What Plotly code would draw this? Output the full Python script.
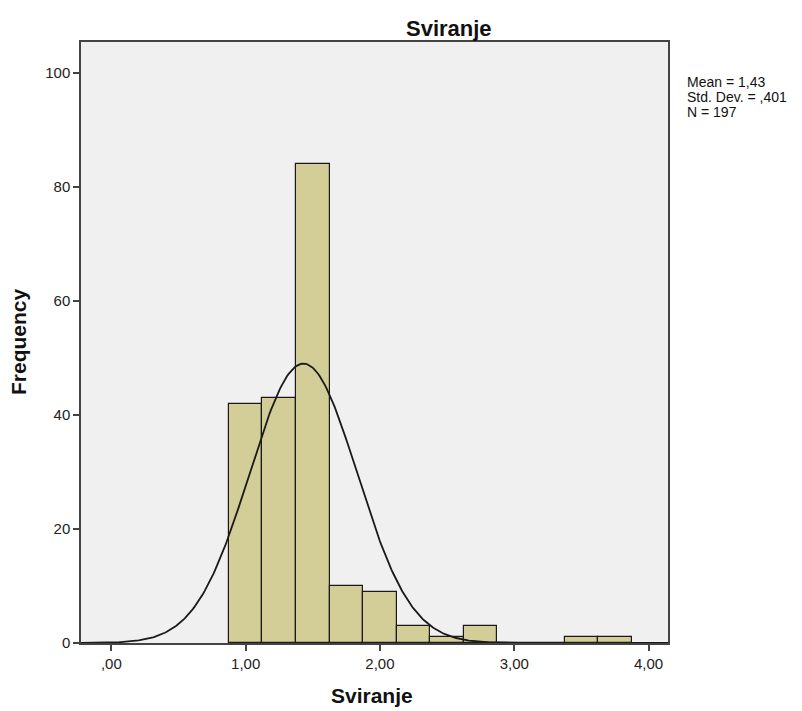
import numpy as np
import plotly.graph_objects as go

# Data
bin_starts = [0.875, 1.125, 1.375, 1.625, 1.875, 2.125, 2.375, 2.625, 2.875, 3.125, 3.375, 3.625]
counts = [42, 43, 84, 10, 9, 3, 1, 3, 0, 0, 1, 1]
bin_width = 0.25
mean_val = 1.43
sd_val = 0.401
n_val = 197
x_tick_vals = [0, 1, 2, 3, 4]
x_tick_text = [",00", "1,00", "2,00", "3,00", "4,00"]
y_tick_vals = [0, 20, 40, 60, 80, 100]
stats_lines = ["Mean = 1,43", "Std. Dev. = ,401", "N = 197"]

centers = [s + bin_width / 2 for s in bin_starts]
xs = np.linspace(-0.226, 4.145, 400)
ys = n_val * bin_width / (sd_val * np.sqrt(2 * np.pi)) * np.exp(-0.5 * ((xs - mean_val) / sd_val) ** 2)

fig = go.Figure()
fig.add_trace(go.Bar(
    x=centers, y=counts, width=bin_width,
    marker=dict(color="#d3ce98", line=dict(color="#1a1a1a", width=1.2)),
    hoverinfo="x+y",
))
fig.add_trace(go.Scatter(x=xs, y=ys, mode="lines", line=dict(color="#1a1a1a", width=1.8), hoverinfo="skip"))

font = "Liberation Sans, Arial, sans-serif"
tickfont = dict(size=15, color="#222222")
fig.update_layout(
    width=802, height=711,
    margin=dict(l=81, r=134, t=42, b=68),
    paper_bgcolor="white", plot_bgcolor="#f0f0f0",
    showlegend=False, bargap=0,
    font=dict(family=font, size=13, color="#333333"),
    xaxis=dict(range=[-0.226, 4.145], tickvals=x_tick_vals, ticktext=x_tick_text,
               showgrid=False, zeroline=False, showline=True, linecolor="#444444", linewidth=1.5,
               mirror=True, ticks="outside", ticklen=6, tickcolor="#444444", tickwidth=1.5,
               tickfont=tickfont),
    yaxis=dict(range=[0, 105.4], tickvals=y_tick_vals, showgrid=False, zeroline=False,
               showline=True, linecolor="#444444", linewidth=1.5, mirror=True,
               ticks="outside", ticklen=6, tickcolor="#444444", tickwidth=1.5,
               tickfont=tickfont),
)

ann = [
    dict(text="<b>Sviranje</b>", x=449, y=28, textangle=0, size=22),
    dict(text="<b>Sviranje</b>", x=372, y=695, textangle=0, size=21),
    dict(text="<b>Frequency</b>", x=18, y=342, textangle=-90, size=21),
]
pl, pr, pt, pb = 81, 802 - 134, 42, 711 - 68
def px(x):
    return (x - pl) / (pr - pl)
def py(y):
    return (pb - y) / (pb - pt)
for a in ann:
    fig.add_annotation(text=a["text"], x=px(a["x"]), y=py(a["y"]), xref="paper", yref="paper",
                       showarrow=False, xanchor="center", yanchor="middle", textangle=a["textangle"],
                       font=dict(size=a["size"], color="#111111"))
for i, line in enumerate(stats_lines):
    fig.add_annotation(text=line, x=px(685), y=py(82 + 15 * i), xref="paper", yref="paper",
                       showarrow=False, xanchor="left", yanchor="middle",
                       font=dict(size=14, color="#111111"))

fig.write_html("out.html")
